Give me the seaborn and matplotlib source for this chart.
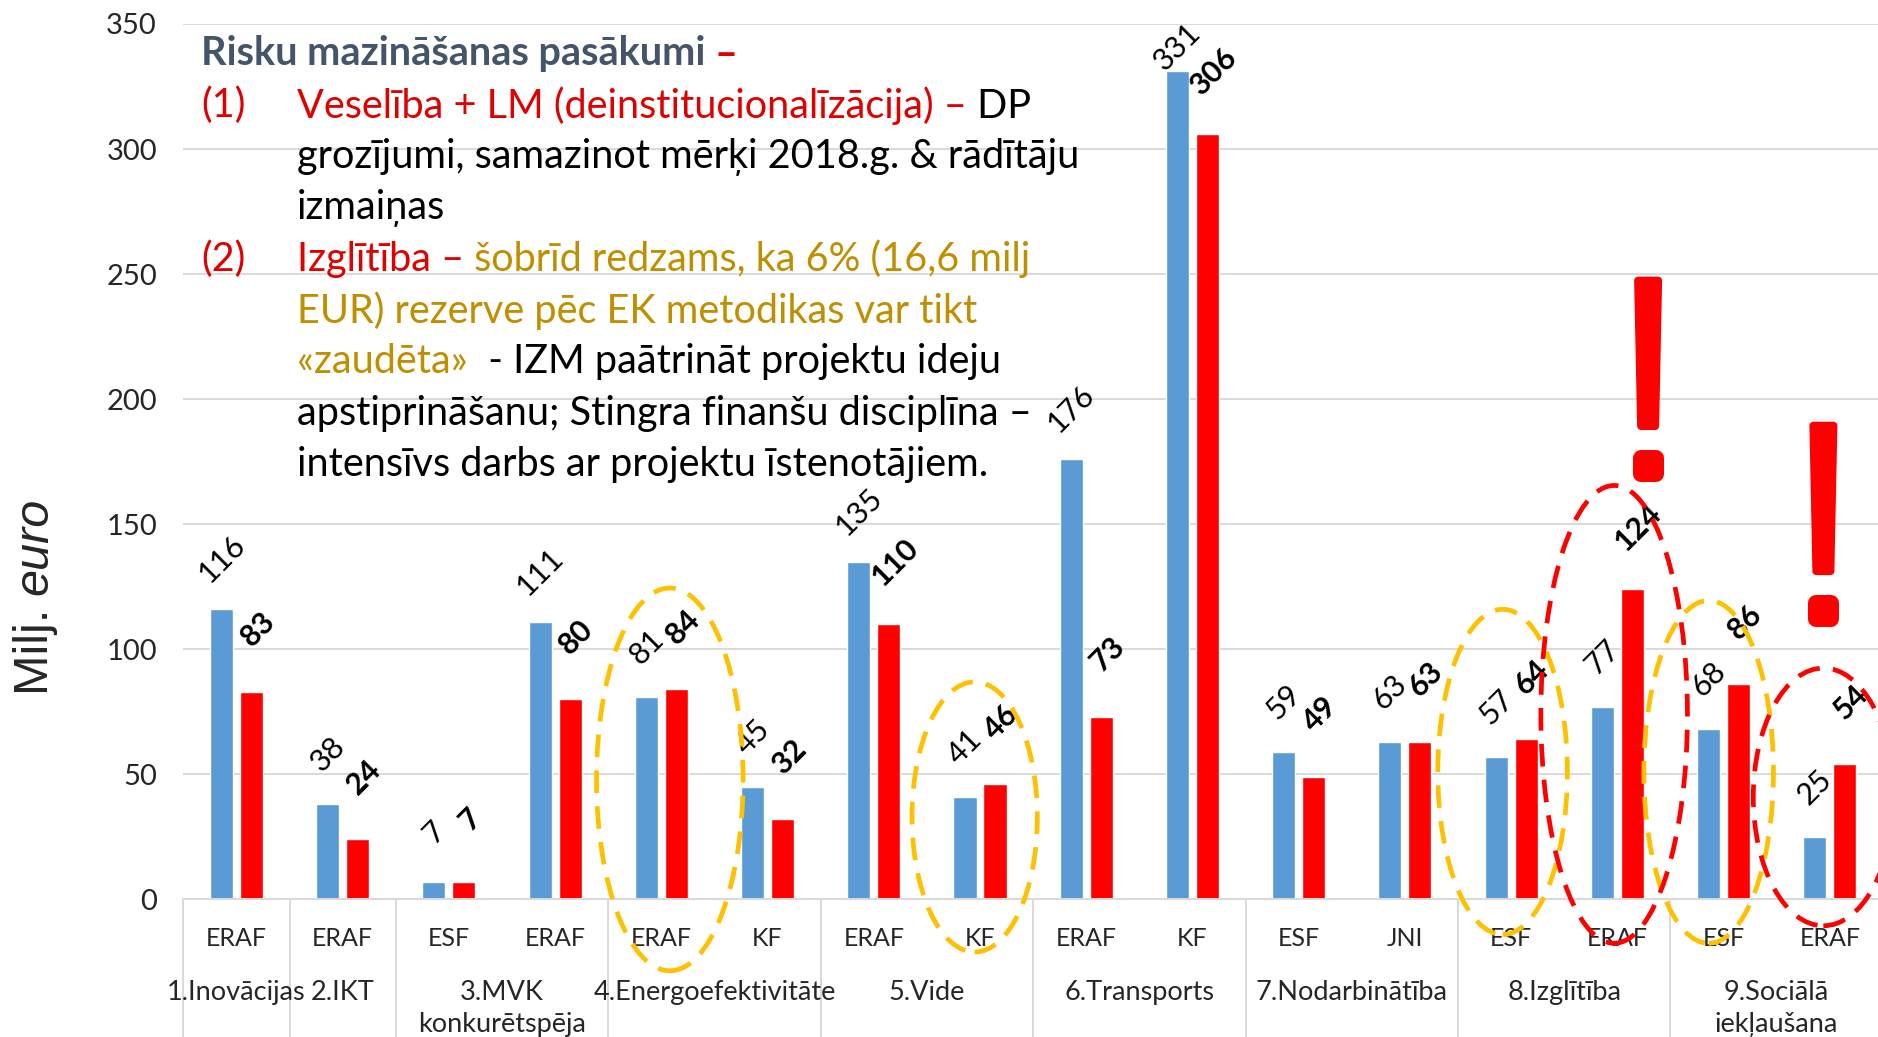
import matplotlib
matplotlib.use("Agg")
import matplotlib.pyplot as plt
import matplotlib.transforms as mtransforms
from matplotlib.patches import Ellipse, Polygon
import pandas as pd
import seaborn as sns

# --- data -------------------------------------------------------------
groups = ["1.Inovācijas", "2.IKT", "3.MVK\nkonkurētspēja", "4.Energoefektivitāte",
          "5.Vide", "6.Transports", "7.Nodarbinātība", "8.Izglītība",
          "9.Sociālā\niekļaušana"]
group_funds = [["ERAF"], ["ERAF"], ["ESF", "ERAF"], ["ERAF", "KF"], ["ERAF", "KF"],
               ["ERAF", "KF"], ["ESF", "JNI"], ["ESF", "ERAF"], ["ESF", "ERAF"]]
blue_vals = [116, 38, 7, 111, 81, 45, 135, 41, 176, 331, 59, 63, 57, 77, 68, 25]
red_vals = [83, 24, 7, 80, 84, 32, 110, 46, 73, 306, 49, 63, 64, 124, 86, 54]
series = ["plāns", "prognoze"]

# highlighted bars: (slot, centre value, width in slots, height in values)
yellow_marks = [(4.08, 48, 1.38, 153), (6.95, 33, 1.18, 108),
                (11.92, 51, 1.22, 130), (13.86, 51, 1.22, 137)]
red_marks = [(12.97, 74, 1.38, 183), (14.94, 41, 1.32, 103)]
# exclamation marks: (slot, bottom value, top value)
warn_marks = [(13.29, 167, 249), (14.94, 109, 191)]

BLUE = "#5B9BD5"
RED = "#FF0000"
TXT_RED = "#E00000"
GOLD = "#BF8F00"
YEL = "#FFC000"
GRID = "#D9D9D9"

funds = [f for g in group_funds for f in g]
slot_names = [f"{i}_{f}" for i, f in enumerate(funds)]

df = pd.DataFrame({
    "slot": slot_names * 2,
    "value": blue_vals + red_vals,
    "series": [series[0]] * len(blue_vals) + [series[1]] * len(red_vals),
})

sns.set_theme(style="white")
plt.rcParams["font.family"] = ["Lato", "DejaVu Sans"]

fig = plt.figure(figsize=(18.78, 10.37), dpi=100)
ax = fig.add_axes([0.0976, 0.1326, 0.905, 0.8443])

sns.barplot(data=df, x="slot", y="value", hue="series", order=slot_names,
            palette=[BLUE, RED], width=0.565, gap=0.23, legend=False, ax=ax,
            saturation=1, errorbar=None)

ax.set_ylim(0, 350)
ax.set_xlim(-0.5, len(funds) - 0.5)
ax.set_yticks(range(0, 351, 50))
ax.yaxis.grid(True, color=GRID, lw=1.4)
ax.set_axisbelow(True)
for s in ["left", "right", "top"]:
    ax.spines[s].set_visible(False)
ax.spines["bottom"].set_color(GRID)
ax.spines["bottom"].set_linewidth(1.4)
ax.tick_params(axis="y", length=0, pad=19, labelsize=21)
ax.tick_params(axis="x", length=0, pad=20, labelsize=18)
ax.set_xticks(range(len(funds)))
ax.set_xticklabels(funds)
ax.set_xlabel("")
ax.set_ylabel("")

# value labels
for i, (b, r) in enumerate(zip(blue_vals, red_vals)):
    ax.text(i - 0.14, min(b + 20, 341), str(b), rotation=45, ha="center",
            va="center", fontsize=22, color="black")
    ax.text(i + 0.20, min(r + 25, 341), str(r), rotation=45, ha="center",
            va="center", fontsize=22, color="black", fontweight="bold")

# group labels and separators
start = 0
bounds = [-0.5]
for g, fl in zip(groups, group_funds):
    centre = start + (len(fl) - 1) / 2
    ax.annotate(g, xy=(centre, 0), xycoords="data", xytext=(0, -81),
                textcoords="offset pixels", ha="center", va="top", fontsize=19.5,
                linespacing=1.32, annotation_clip=False)
    start += len(fl)
    bounds.append(start - 0.5)
ax.vlines(bounds, -70, 0, colors=GRID, lw=1.4, clip_on=False)

# dashed ellipses
for x, y, w, h in yellow_marks:
    ax.add_patch(Ellipse((x, y), w, h, fill=False, ec=YEL, lw=3.4,
                         ls=(0, (4.8, 2.8)), clip_on=False, zorder=5))
for x, y, w, h in red_marks:
    ax.add_patch(Ellipse((x, y), w, h, fill=False, ec=RED, lw=3.4,
                         ls=(0, (4.8, 2.8)), clip_on=False, zorder=5))

# big exclamation marks: tapered bar + rounded dot, drawn in pixel space
ident = mtransforms.IdentityTransform()
for x, yb, yt in warn_marks:
    px, py0 = ax.transData.transform((x, yb))
    _, py1 = ax.transData.transform((x, yt))
    H = py1 - py0
    r = 4
    bar_bottom = py1 - 0.748 * H
    bar = [(px - 14 + r, py1 - r), (px + 14 - r, py1 - r),
           (px + 11 - r, bar_bottom + r), (px - 11 + r, bar_bottom + r)]
    ax.add_patch(Polygon(bar, closed=True, fc=RED, ec=RED, lw=2 * r * 0.72,
                         joinstyle="round", transform=ident, clip_on=False, zorder=6))
    r2 = 8
    dot_top = py0 + 0.155 * H
    dot = [(px - 15.5 + r2, py0 + r2), (px + 15.5 - r2, py0 + r2),
           (px + 15.5 - r2, dot_top - r2), (px - 15.5 + r2, dot_top - r2)]
    ax.add_patch(Polygon(dot, closed=True, fc=RED, ec=RED, lw=2 * r2 * 0.72,
                         joinstyle="round", transform=ident, clip_on=False, zorder=6))

# y label: "Milj. euro"
t1 = fig.text(35 / 1878, 1 - 695 / 1037, "Milj. ", rotation=90, ha="center",
              va="bottom", fontsize=35, family=["Liberation Sans"])
ax.annotate("euro", xy=(0.5, 1), xycoords=t1, rotation=90, ha="center",
            va="bottom", fontsize=35, family=["Liberation Sans"], style="italic")

# text block
lines = [
    (None, [("Risku mazināšanas pasākumi ", "#44546A", "bold"), ("–", TXT_RED, "bold")]),
    ("(1)", [("Veselība + LM (deinstitucionalīzācija) –", TXT_RED, "normal"),
             (" DP", "black", "normal")]),
    (None, [("grozījumi, samazinot mērķi 2018.g. & rādītāju", "black", "normal")]),
    (None, [("izmaiņas", "black", "normal")]),
    ("(2)", [("Izglītība –", TXT_RED, "normal"),
             (" šobrīd redzams, ka 6% (16,6 milj", GOLD, "normal")]),
    (None, [("EUR) rezerve pēc EK metodikas var tikt", GOLD, "normal")]),
    (None, [("«zaudēta»", GOLD, "normal"), ("  - IZM paātrināt projektu ideju", "black", "normal")]),
    (None, [("apstiprināšanu; Stingra finanšu disciplīna –", "black", "normal")]),
    (None, [("intensīvs darbs ar projektu īstenotājiem.", "black", "normal")]),
]
fs = 28.5
for k, (marker, parts) in enumerate(lines):
    yc = 1 - (54 + k * 51.3) / 1037
    x0 = 201 / 1878 if k == 0 else 297 / 1878
    if marker:
        fig.text(201 / 1878, yc, marker, color=TXT_RED, fontsize=fs, va="center")
    prev = fig.text(x0, yc, parts[0][0], color=parts[0][1], fontweight=parts[0][2],
                    fontsize=fs, va="center")
    for txt, col, wt in parts[1:]:
        prev = ax.annotate(txt, xy=(1, 0), xycoords=prev, va="bottom", ha="left",
                           color=col, fontweight=wt, fontsize=fs)

fig.savefig("out.png", dpi=100)
